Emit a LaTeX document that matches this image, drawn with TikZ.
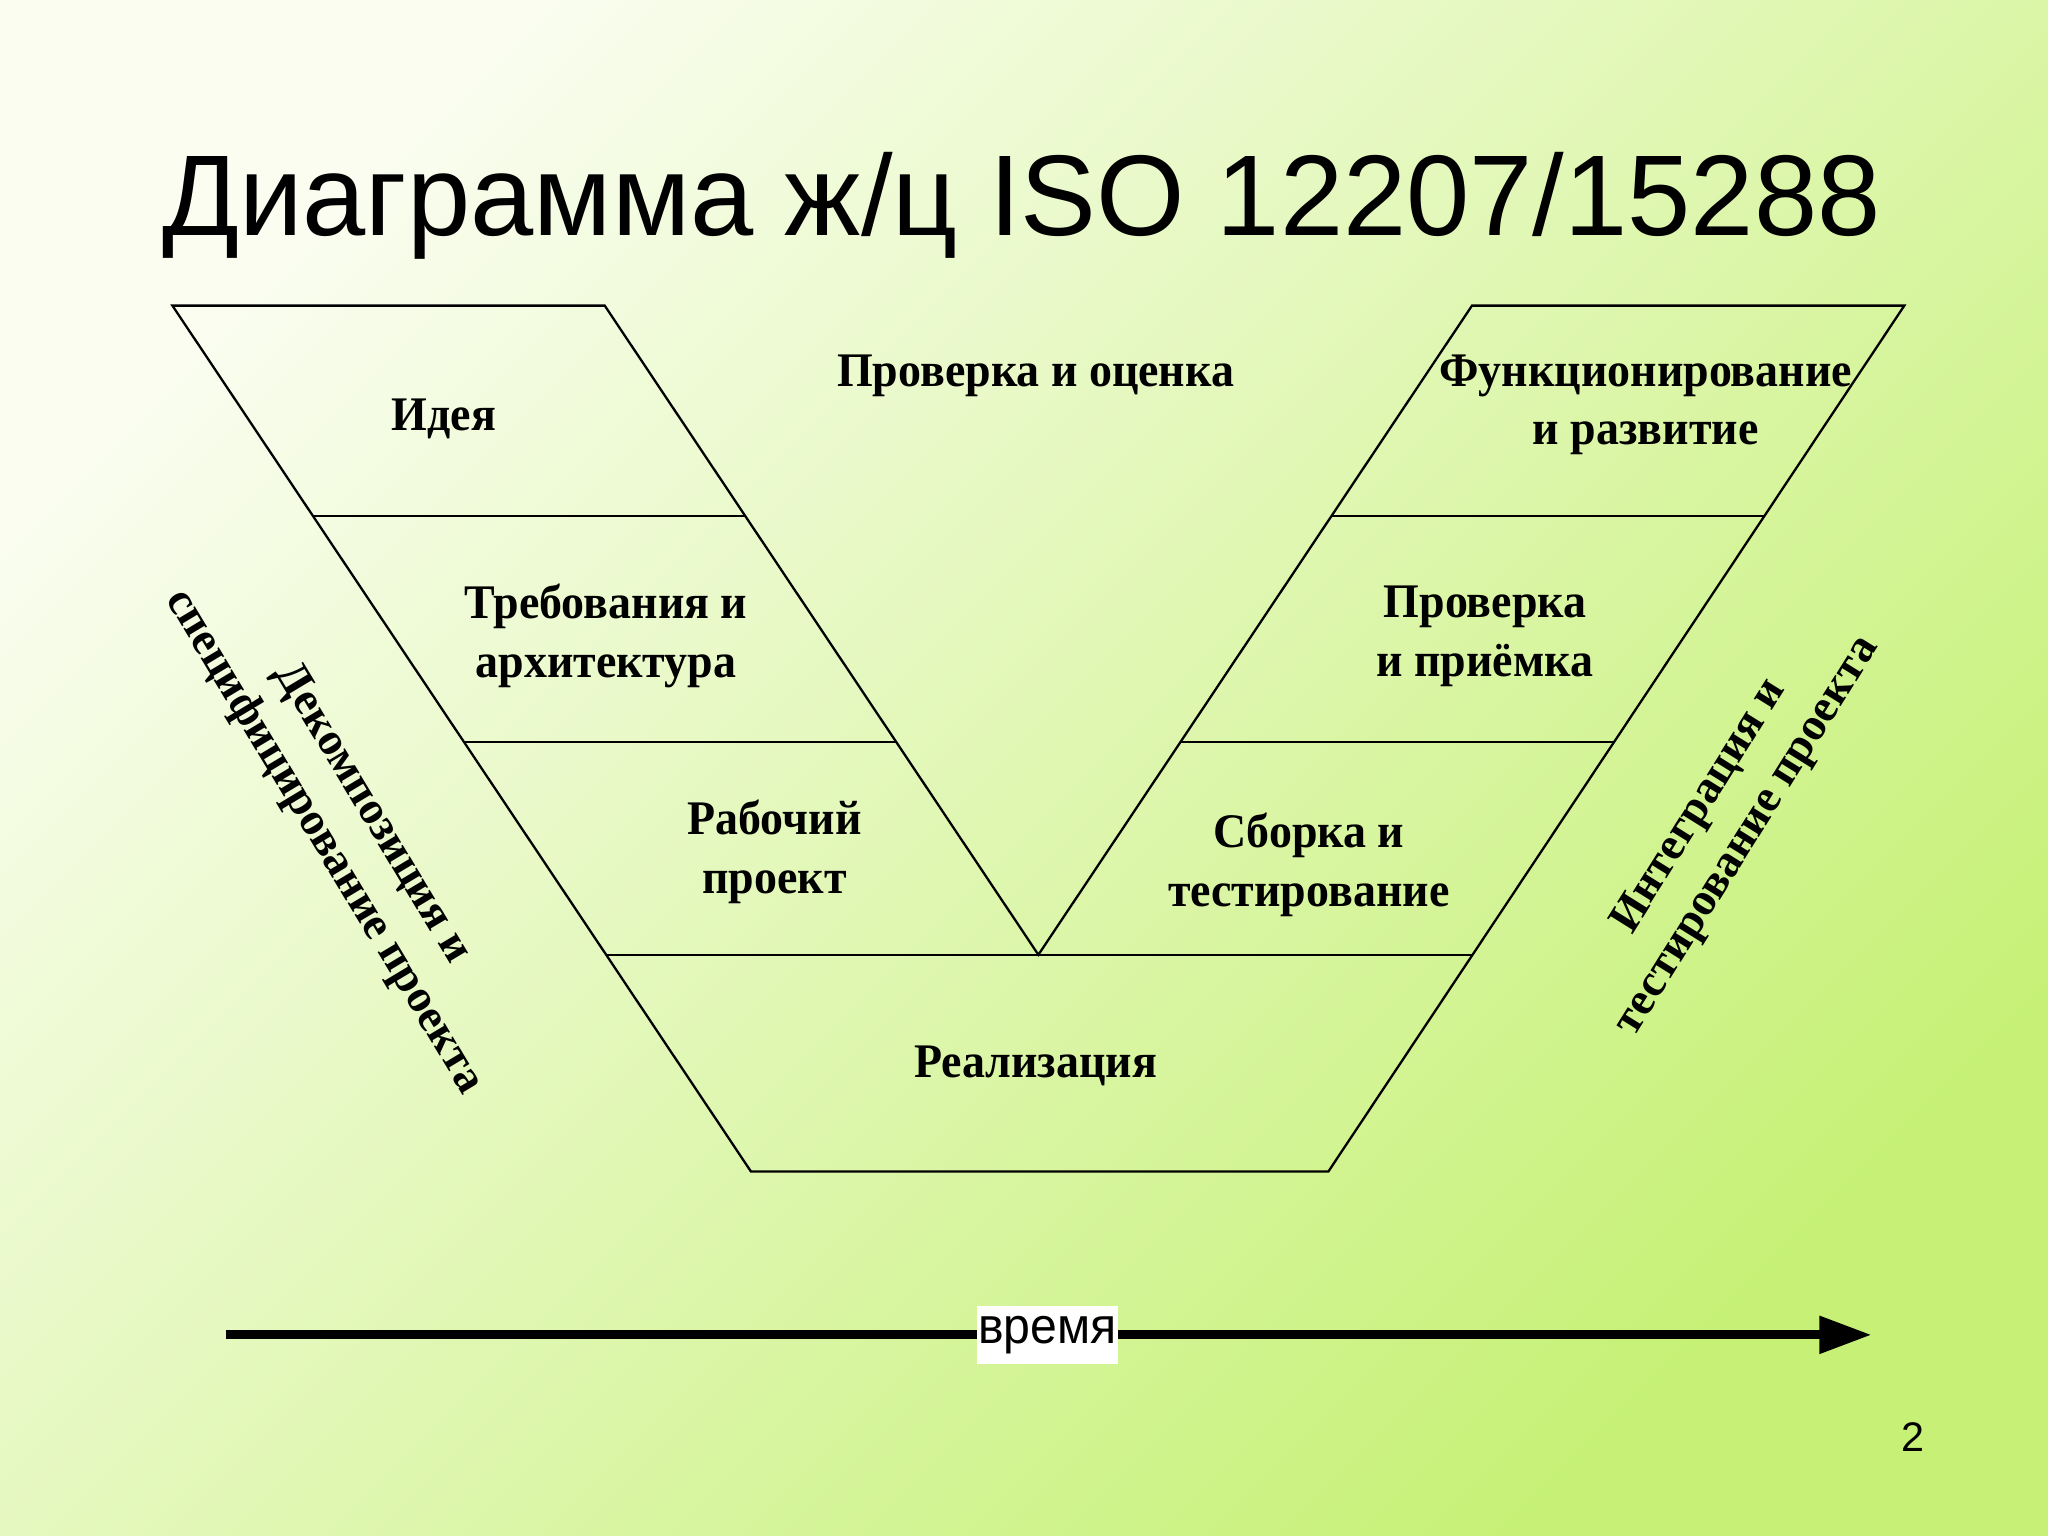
\documentclass[tikz,border=0pt]{standalone}
\usepackage{fontspec}
\setmainfont{Liberation Serif}
\newfontfamily\arialf{Liberation Sans}
\usetikzlibrary{arrows.meta}
\definecolor{bgtl}{RGB}{250,253,240}
\definecolor{bgbr}{RGB}{198,241,118}
\tikzset{
  vline/.style={line width=0.5pt, line join=miter},
  lbl/.style={font=\bfseries\fontsize{10}{12.2}\selectfont, align=center, inner sep=0pt, yscale=1.05},
  rlbl/.style={font=\bfseries\fontsize{10}{12.2}\selectfont, align=center, inner sep=0pt},
  timearrow/.style={line width=2pt, -{Triangle[length=11.4pt,width=7.8pt]}},
}
\begin{document}
\begin{tikzpicture}[x=0.01cm,y=-0.01cm]
\shade[top color=bgtl, bottom color=bgbr, shading angle=45] (0,0) rectangle (1568,1176);
\useasboundingbox (0,0) rectangle (1568,1176);
% title
\node[font=\arialf\fontsize{25}{30}\selectfont, anchor=base, inner sep=0pt, xscale=0.99] (title) at (782,180) {Диаграмма ж/ц ISO 12207/15288};
% coordinates of the V
\coordinate (L1) at (132,234);  \coordinate (L2) at (463,234);
\coordinate (L3) at (240,395);  \coordinate (L4) at (571,395);
\coordinate (L5) at (355,568);  \coordinate (L6) at (686,568);
\coordinate (L7) at (464,731);  \coordinate (V)  at (795,731);
\coordinate (B1) at (575,897);  \coordinate (B2) at (1017,897);
\coordinate (R1) at (1127,234); \coordinate (R2) at (1458,234);
\coordinate (R3) at (1019,395); \coordinate (R4) at (1351,395);
\coordinate (R5) at (904,568);  \coordinate (R6) at (1236,568);
\coordinate (R7) at (1127,731);
\draw[vline] (L1) -- (L2) -- (V) -- (R1) -- (R2) -- (B2) -- (B1) -- cycle;
\draw[vline] (L3) -- (L4);
\draw[vline] (L5) -- (L6);
\draw[vline] (L7) -- (R7);
\draw[vline] (R3) -- (R4);
\draw[vline] (R5) -- (R6);
% labels
\node[lbl] (idea) at (340,321) {Идея};
\node[lbl] (check) at (793,288) {Проверка и оценка};
\node[lbl] (func) at (1260,310) {Функционирование\\и развитие};
\node[lbl] (req) at (464,487) {Требования и\\архитектура};
\node[lbl] (acc) at (1137,487) {Проверка\\и приёмка};
\node[lbl] (work) at (593,652) {Рабочий\\проект};
\node[lbl] (build) at (1002,662) {Сборка и\\тестирование};
\node[lbl] (impl) at (793,816) {Реализация};
\node[rlbl, rotate=-59] (decomp) at (266,634) {Декомпозиция и\\специфицирование проекта};
\node[rlbl, rotate=58] (integ) at (1320,629) {Интеграция и\\тестирование проекта};
% time arrow
\coordinate (t0) at (173,1022);
\coordinate (t1) at (1433,1022);
\draw[timearrow] (t0) -- (t1);
\node[fill=white, font=\arialf\fontsize{10.5}{12}\selectfont, inner xsep=0.2pt, inner ysep=0pt, minimum height=0.42cm, yscale=1.05] (time) at (802,1022) {время};
\node[font=\arialf\fontsize{9}{10}\selectfont, inner sep=0pt] (page) at (1465,1100) {2};
\end{tikzpicture}
\end{document}
